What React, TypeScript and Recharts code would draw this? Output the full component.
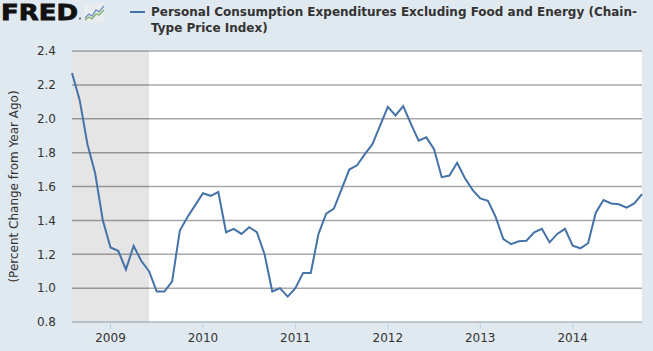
import {
  LineChart,
  Line,
  XAxis,
  YAxis,
  CartesianGrid,
  ReferenceArea,
} from "recharts";

// PCE excluding food & energy, % change from year ago (monthly)
const PCE_2008 = [2.27, 2.11, 1.85, 1.68, 1.4]; // Aug–Dec
const PCE_2009 = [1.24, 1.22, 1.11, 1.25, 1.16, 1.1, 0.98, 0.98, 1.04, 1.34, 1.42, 1.49];
const PCE_2010 = [1.56, 1.545, 1.567, 1.33, 1.35, 1.32, 1.36, 1.33, 1.2, 0.98, 1.0, 0.95];
const PCE_2011 = [1.0, 1.09, 1.09, 1.32, 1.44, 1.47, 1.585, 1.7, 1.725, 1.79, 1.85, 1.96];
const PCE_2012 = [2.07, 2.02, 2.075, 1.97, 1.87, 1.89, 1.82, 1.655, 1.665, 1.74, 1.65, 1.58];
const PCE_2013 = [1.53, 1.515, 1.42, 1.29, 1.26, 1.277, 1.28, 1.33, 1.35, 1.27, 1.32, 1.35];
const PCE_2014 = [1.25, 1.235, 1.265, 1.445, 1.52, 1.5, 1.495, 1.475, 1.5, 1.555]; // Jan–Oct

const START_YEAR = 2008;
const START_MONTH = 8;
const YEAR_LABELS = ["2009", "2010", "2011", "2012", "2013", "2014"];
const Y_TICKS = [0.8, 1.0, 1.2, 1.4, 1.6, 1.8, 2.0, 2.2, 2.4];
// recession shading: Aug 2008 (start of view) through Jun 2009
const RECESSION = ["2008-08", "2009-06"];

const values = [...PCE_2008, ...PCE_2009, ...PCE_2010, ...PCE_2011, ...PCE_2012, ...PCE_2013, ...PCE_2014];
const data = values.map((v, i) => {
  const m = START_MONTH - 1 + i;
  const y = START_YEAR + Math.floor(m / 12);
  const mm = (m % 12) + 1;
  return { t: i, date: `${y}-${String(mm).padStart(2, "0")}`, pce: v };
});
const indexOf = (d: string) => data.findIndex((r) => r.date === d);
const yearTicks = YEAR_LABELS.map((y) => indexOf(`${y}-01`));

const TEXT = "#333333";
const FONT = "'DejaVu Sans', Verdana, sans-serif";
const W = 653;
const H = 351;
const MARGIN = { top: 51, right: 11, bottom: 0, left: 0 };
const Y_AXIS_W = 72;
const X_AXIS_H = 29;

function FredLogo() {
  return (
    <svg width={110} height={26} style={{ position: "absolute", left: 0, top: 0 }}>
      <text
        x={1}
        y={19.5}
        fontFamily="'DejaVu Sans', sans-serif"
        fontWeight={900}
        fontSize={22}
        fill="#111"
        stroke="#111"
        strokeWidth={0.8}
        textLength={77}
        lengthAdjust="spacingAndGlyphs"
      >
        FRED
      </text>
      <circle cx={80} cy={18.5} r={0.9} fill="#444" />
      <rect x={84} y={3} width={21} height={19} fill="#e8ecee" />
      <polyline points="85,18 89,14 92,16 96,10 99,12 104,6" fill="none" stroke="#6b8fc1" strokeWidth={1.3} />
      <polyline points="85,20 89,17 92,19 96,14 99,15 104,10" fill="none" stroke="#7bb061" strokeWidth={1.3} />
    </svg>
  );
}

export default function App() {
  return (
    <div
      style={{
        position: "absolute",
        left: 0,
        top: 0,
        width: W,
        height: H,
        background: "#e1e9f0",
        fontFamily: FONT,
        overflow: "hidden",
      }}
    >
      <FredLogo />
      <div style={{ position: "absolute", left: 130, top: 11, width: 15, height: 2, background: "#4572a7" }} />
      <div
        style={{
          position: "absolute",
          left: 151,
          top: 4,
          fontSize: 12,
          fontWeight: "bold",
          color: TEXT,
          lineHeight: "16px",
          whiteSpace: "nowrap",
        }}
      >
        <div>Personal Consumption Expenditures Excluding Food and Energy (Chain-</div>
        <div>Type Price Index)</div>
      </div>

      {/* white plot background behind the transparent chart svg */}
      <div
        style={{
          position: "absolute",
          left: MARGIN.left + Y_AXIS_W,
          top: MARGIN.top,
          width: W - MARGIN.left - MARGIN.right - Y_AXIS_W,
          height: H - MARGIN.top - MARGIN.bottom - X_AXIS_H,
          background: "#ffffff",
        }}
      />

      <div style={{ position: "absolute", left: 0, top: 0 }}>
        <LineChart width={W} height={H} data={data} margin={MARGIN}>
          <CartesianGrid stroke="#a8a8a8" strokeWidth={1.5} vertical={false} />
          {/* translucent so the grid rows stay visible through the recession band */}
          <ReferenceArea
            x1={indexOf(RECESSION[0])}
            x2={indexOf(RECESSION[1])}
            fill="#000000"
            fillOpacity={0.1}
            stroke="none"
          />
          <XAxis
            dataKey="t"
            type="number"
            domain={[0, data.length - 1]}
            ticks={yearTicks}
            tickFormatter={(t: number) => YEAR_LABELS[yearTicks.indexOf(t)] ?? ""}
            stroke="#c0d0e0"
            tickSize={7}
            tickMargin={4}
            height={X_AXIS_H}
            tick={{ fontSize: 12, fill: TEXT, fontFamily: FONT }}
          />
          <YAxis
            domain={[0.8, 2.4]}
            ticks={Y_TICKS}
            tickFormatter={(v: number) => v.toFixed(1)}
            axisLine={false}
            tickLine={false}
            tickMargin={10}
            width={Y_AXIS_W}
            tick={{ fontSize: 12, fill: TEXT, fontFamily: FONT }}
            label={{
              value: "(Percent Change from Year Ago)",
              angle: -90,
              position: "insideLeft",
              offset: 14,
              style: { textAnchor: "middle", fontSize: 12, fill: TEXT, fontFamily: FONT },
            }}
          />
          <Line
            type="linear"
            dataKey="pce"
            stroke="#4572a7"
            strokeWidth={2}
            dot={false}
            isAnimationActive={false}
          />
        </LineChart>
      </div>
    </div>
  );
}
